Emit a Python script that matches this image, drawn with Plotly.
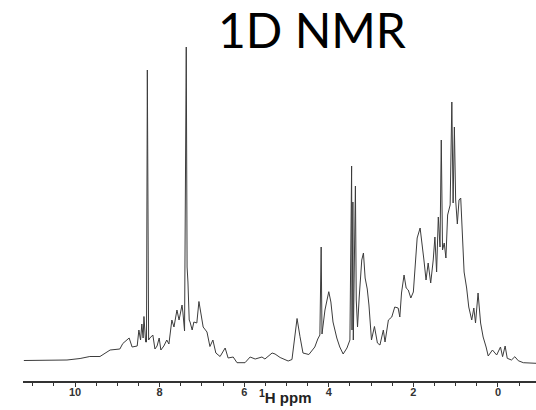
import plotly.graph_objects as go

# Chemical shift (ppm) and intensity (a.u.)
ppm = [11.21, 10.71, 10.19, 9.88, 9.65, 9.41, 9.17, 8.94, 8.87, 8.72,
       8.65, 8.53, 8.49, 8.45, 8.42, 8.39, 8.37, 8.33, 8.31, 8.29,
       8.26, 8.23, 8.16, 8.11, 8.06, 8.01, 7.97, 7.90, 7.83, 7.78,
       7.71, 7.66, 7.59, 7.54, 7.47, 7.45, 7.41, 7.37, 7.35, 7.33,
       7.30, 7.28, 7.23, 7.19, 7.12, 7.07, 7.02, 6.97, 6.88, 6.81,
       6.74, 6.67, 6.57, 6.45, 6.38, 6.26, 6.17, 5.98, 5.86, 5.74,
       5.58, 5.51, 5.34, 5.27, 5.15, 4.96, 4.87, 4.75, 4.68, 4.61,
       4.47, 4.33, 4.26, 4.21, 4.18, 4.16, 4.09, 4.04, 4.00, 3.95,
       3.90, 3.81, 3.74, 3.66, 3.57, 3.50, 3.46, 3.45, 3.43, 3.42,
       3.39, 3.37, 3.35, 3.32, 3.28, 3.22, 3.18, 3.14, 3.09, 3.05,
       2.99, 2.92, 2.85, 2.79, 2.71, 2.67, 2.59, 2.51, 2.44, 2.36,
       2.32, 2.28, 2.22, 2.17, 2.12, 2.06, 2.00, 1.95, 1.91, 1.84,
       1.79, 1.75, 1.70, 1.65, 1.59, 1.53, 1.49, 1.45, 1.41, 1.37,
       1.34, 1.31, 1.27, 1.23, 1.19, 1.13, 1.09, 1.06, 1.03, 1.00,
       0.96, 0.92, 0.88, 0.84, 0.80, 0.74, 0.69, 0.62, 0.57, 0.53,
       0.47, 0.41, 0.35, 0.28, 0.23, 0.13, 0.03, -0.06, -0.11, -0.17,
       -0.22, -0.32, -0.40, -0.48, -0.60, -0.90]

intensity = [-0.5, -0.5, 0, 1.5, 3.5, 3.5, 10, 11, 16.5, 22,
             13, 14, 30, 20, 36, 22, 43.5, 18, 18, 290,
             20, 22, 25, 11, 14, 22, 10, 14, 20, 16,
             40, 33, 50, 40, 55, 48, 29, 313, 93, 78,
             40, 38, 30, 38, 37, 58.5, 43, 33, 28, 13.5,
             20, 7, 3.5, 12, 2, 3, -2.7, -2.7, 3, 1,
             3, 1, 7, 6, 2.5, -1, 0.5, 41.5, 23.3, 7,
             5.5, 13, 21, 25, 113, 26, 50, 59, 68.3, 58,
             38, 22, 13, 6, 12, 20, 194, 30, 158, 20,
             145, 174, 60, 33, 63, 100, 107, 82, 71, 55,
             20, 33.5, 17, 15, 30, 18, 40, 43, 53, 52,
             43, 67, 85, 72, 70, 62, 68, 100, 122, 132,
             117, 100, 80, 97, 77, 100, 123, 88, 143, 113,
             220, 110, 117, 102, 145, 155, 258, 157, 233, 160,
             136, 160, 162, 117, 88, 72, 53, 40, 52, 37,
             67, 37, 23, 13, 4, 10, 5, 13, 3.3, 14,
             1.7, 0, 3.3, -0.7, -2.7, -3.3]

tick_vals = [10, 8, 6, 4, 2, 0]
tick_text = ["10", "8", "6", "4", "2", "0"]

fig = go.Figure()
fig.add_trace(go.Scatter(
    x=ppm, y=intensity, mode="lines",
    line=dict(color="#3c3c3c", width=1),
    hoverinfo="skip", showlegend=False,
))

fig.update_layout(
    width=536, height=410,
    margin=dict(l=23, r=0, t=40, b=29),
    paper_bgcolor="white", plot_bgcolor="white",
    xaxis=dict(
        range=[11.23, -0.90],
        showgrid=False, zeroline=False,
        showline=True, linecolor="#333333", linewidth=1.5,
        ticks="outside", ticklen=4, tickwidth=1.2, tickcolor="#333333",
        tickvals=tick_vals, ticktext=tick_text,
        ticklabelstandoff=-4,
        tickfont=dict(family="Liberation Sans, Arial", size=11, color="#333333", weight="bold"),
        minor=dict(dtick=0.5, tick0=0, ticks="outside", ticklen=3, tickwidth=1.2, tickcolor="#333333"),
    ),
    yaxis=dict(range=[-21, 320], visible=False),
    annotations=[
        dict(text="1D NMR", xref="paper", yref="paper", x=0.564, y=1.03,
             xanchor="center", yanchor="middle", showarrow=False,
             font=dict(family="Lato", size=48, color="black")),
        dict(text="<sup>1</sup>H ppm", xref="paper", yref="paper", x=0.511, y=-0.012,
             xanchor="center", yanchor="top", showarrow=False,
             font=dict(family="Liberation Sans, Arial", size=15, color="#222222", weight="bold")),
    ],
)

fig.write_html("out.html")
